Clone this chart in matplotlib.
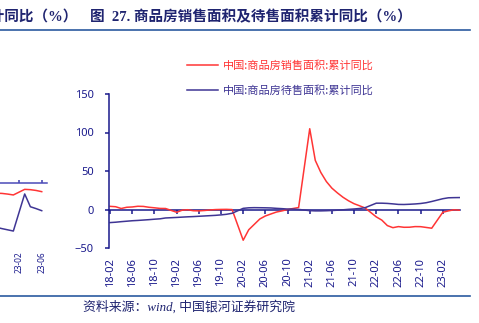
import matplotlib
matplotlib.use('Agg')
import matplotlib.pyplot as plt
from matplotlib.lines import Line2D
from matplotlib.font_manager import FontProperties

# ---------------- data ----------------
# main chart: monthly cumulative YoY (%), 2018-02 .. 2023-05 (no January data)
months = [f'{y:02d}-{m:02d}' for y in range(18, 23) for m in range(2, 13)] + \
         ['23-02', '23-03', '23-04', '23-05']

sales_yoy = [4.1, 3.6, 1.3, 2.9, 3.3, 4.2, 4.0, 2.9, 2.2, 1.4, 1.3,
             -3.6, -0.9, -0.3, -1.6, -1.8, -1.3, -0.6, -0.1, 0.1, 0.2, -0.1,
             -39.9, -26.3, -19.3, -12.3, -8.4, -5.8, -3.3, -1.8, 0.0, 1.3, 2.6,
             104.9, 63.8, 48.1, 36.3, 27.7, 21.5, 15.9, 11.3, 7.5, 4.8, 1.9,
             -9.6, -13.8, -20.9, -23.6, -22.2, -23.1, -23.0, -22.2, -22.3, -23.3, -24.3,
             -3.6, -1.8, -0.4, -0.9]

stock_yoy = [-17.0, -16.5, -15.8, -15.2, -14.6, -14.2, -13.7, -13.2, -12.6, -12.1, -11.0,
             -10.3, -9.9, -9.5, -9.2, -8.8, -8.4, -8.0, -7.6, -7.0, -6.2, -4.9,
             1.5, 2.2, 2.4, 2.3, 2.2, 2.0, 1.5, 1.1, 0.6, 0.5, 0.1,
             -1.5, -1.8, -1.8, -1.6, -1.3, -0.9, -0.4, 0.2, 0.7, 1.3, 2.4,
             8.2, 8.2, 7.9, 7.3, 6.6, 6.5, 6.8, 7.2, 7.8, 8.8, 10.4,
             14.0, 15.2, 15.4, 15.5]

tick_labels = ['18-02', '18-06', '18-10', '19-02', '19-06', '19-10', '20-02', '20-06',
               '20-10', '21-02', '21-06', '21-10', '22-02', '22-06', '22-10', '23-02']

series_names = ['中国:商品房销售面积:累计同比', '中国:商品房待售面积:累计同比']

# partial chart on the left (previous figure, only its right edge is visible)
left_months = ['22-09', '22-10', '22-11', '22-12', '23-02', '23-03', '23-04', '23-05']
left_red = [-9.0, -9.2, -9.8, -10.6, -5.5, -5.8, -6.5, -7.6]
left_blue = [-40.0, -41.2, -42.3, -43.4, -9.7, -21.3, -23.0, -24.9]
left_ticks = ['22-10', '23-02', '23-06']

title_text = '图  27. 商品房销售面积及待售面积累计同比（%）'
left_title_text = '累计同比（%）'
source_text = '资料来源：wind, 中国银河证券研究院'


def mi(label):
    y, m = label.split('-')
    return (int(y) - 18) * 12 + int(m) - 2


# ---------------- style ----------------
W, H = 479, 323
NAVY = '#1a1a8c'
RED = '#ff3535'
PURPLE = '#3f3594'
TITLE_C = '#1f2470'
RULE_C = '#2b5aa0'

fig = plt.figure(figsize=(W / 100, H / 100), dpi=100)

tick_font = FontProperties(family='Noto Sans', size=8)

# ---------------- main chart ----------------
ax = fig.add_axes([109 / W, 1 - 248 / H, 351 / W, 154 / H])
ax.set_facecolor('none')
x = [mi(m) for m in months]
ax.plot(x, sales_yoy, color=RED, lw=1.1, label=series_names[0])
ax.plot(x, stock_yoy, color=PURPLE, lw=1.1, label=series_names[1])

ax.set_xlim(-0.2, 63.1)
ax.set_ylim(-50, 150)
ax.set_yticks([-50, 0, 50, 100, 150])
for s in ['top', 'right', 'bottom']:
    ax.spines[s].set_visible(False)
ax.spines['left'].set_color(NAVY)
ax.spines['left'].set_linewidth(1.1)
ax.tick_params(axis='y', color=NAVY, length=3, width=1.1, labelcolor=NAVY, pad=8)
tick_pos = [mi(t) for t in tick_labels]
ax.set_xticks(tick_pos)
ax.set_xticklabels(tick_labels, rotation=90)
ax.tick_params(axis='x', length=0, labelcolor=NAVY, pad=7)
for lab in ax.get_xticklabels() + ax.get_yticklabels():
    lab.set_fontproperties(tick_font)

sec = ax.secondary_xaxis(0.25)
sec.set_xticks(tick_pos)
sec.tick_params(axis='x', direction='out', length=3, width=1.1, color=NAVY,
                labelbottom=False, labeltop=False)
sec.spines['bottom'].set_color(NAVY)
sec.spines['bottom'].set_linewidth(1.1)

leg_font = FontProperties(family=['Noto Sans CJK SC'], size=8)
leg = ax.legend(loc='upper left', bbox_to_anchor=(187 / W, 1 - 60 / H),
                bbox_transform=fig.transFigure, frameon=False, prop=leg_font,
                handlelength=2.8, handletextpad=0.4, labelspacing=1.3,
                borderpad=0, borderaxespad=0)
for t, c in zip(leg.get_texts(), [RED, PURPLE]):
    t.set_color(c)

# ---------------- left partial chart ----------------
axl = fig.add_axes([-100 / W, 1 - 249.3 / H, 147 / W, 154 / H])
axl.set_facecolor('none')
lx = [mi(m) + 1 for m in left_months]
axl.plot(lx, left_red, color=RED, lw=1.1)
axl.plot(lx, left_blue, color=PURPLE, lw=1.1)
axl.set_xlim(39.03, 64.93)
axl.set_ylim(-60, 80)
for s in axl.spines.values():
    s.set_visible(False)
axl.set_yticks([])
lt_pos = [mi(t) for t in left_ticks]
axl.set_xticks(lt_pos)
axl.set_xticklabels(left_ticks, rotation=90)
axl.tick_params(axis='x', length=0, labelcolor=NAVY, pad=1.7)
for lab in axl.get_xticklabels():
    lab.set_fontproperties(FontProperties(family='Noto Sans', size=6))
secl = axl.secondary_xaxis(60 / 140)
secl.set_xticks(lt_pos)
secl.tick_params(axis='x', direction='in', length=2.2, width=1.1, color='#3f3fb0',
                 labelbottom=False, labeltop=False)
secl.spines['bottom'].set_color('#4a4ab8')
secl.spines['bottom'].set_linewidth(1.1)

# ---------------- page texts ----------------
title_fam = ['Liberation Serif', 'Noto Sans CJK SC']
fig.text(90 / W, 1 - 17 / H, title_text, fontsize=10.5, fontweight='bold', color=TITLE_C,
         family=title_fam, va='center', ha='left')
fig.text(78 / W, 1 - 17 / H, left_title_text, fontsize=10.5, fontweight='bold', color=TITLE_C,
         family=title_fam, va='center', ha='right')
fig.add_artist(Line2D([0, 470 / W], [1 - 30 / H, 1 - 30 / H], color=RULE_C, lw=1.2))
fig.add_artist(Line2D([0, 470 / W], [1 - 296 / H, 1 - 296 / H], color=RULE_C, lw=1.2))
fig.text(83 / W, 1 - 307 / H, source_text, fontsize=9.3, style='italic', color=TITLE_C,
         family=title_fam, va='center', ha='left')

fig.savefig('out.png', dpi=100)
